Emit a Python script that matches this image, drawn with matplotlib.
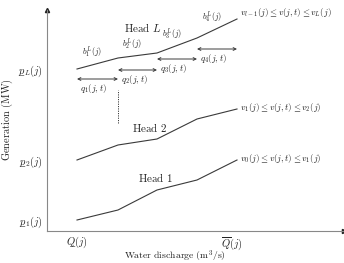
import matplotlib
matplotlib.use("Agg")
import matplotlib.pyplot as plt

plt.rcParams["mathtext.fontset"] = "cm"
plt.rcParams["font.family"] = "serif"
plt.rcParams["font.serif"] = ["cmr10", "DejaVu Serif"]
plt.rcParams["axes.unicode_minus"] = False
plt.rcParams["axes.formatter.use_mathtext"] = True

# ----------------------------
# data (schematic units)
# ----------------------------
discharge = [30, 71, 110, 150, 190]
head_1 = [11, 21, 41, 51, 71]
head_2 = [71, 86, 92, 112, 122]
head_L = [162, 173, 178, 193, 212]

q_levels = [152, 161, 172, 182]          # heights of the q_k(j,t) arrows
x_ticks = [30, 185]
y_ticks = [head_1[0], head_2[0], head_L[0]]

UL = "\u0332"   # combining low line -> underlined symbol
x_labels = ["$Q" + UL + "(j)$", r"$\overline{Q}(j)$"]
y_labels = ["$p" + UL + "_1(j)$", "$p" + UL + "_2(j)$", "$p" + UL + "_L(j)$"]
b_labels = [r"$b_%d^L(j)$" % k for k in range(1, 5)]
q_labels = [r"$q_%d(j,t)$" % k for k in range(1, 5)]
range_labels = [r"$v_0(j) \leq v(j,t) \leq v_1(j)$",
                r"$v_1(j) \leq v(j,t) \leq v_2(j)$",
                r"$v_{l-1}(j) \leq v(j,t) \leq v_L(j)$"]

line_col = "#3a3a3a"
txt_col = "#222222"

fig = plt.figure(figsize=(3.44, 2.63), dpi=100)
ax = fig.add_axes([47 / 344, 32 / 263, 297 / 344, 221 / 263])
ax.set_xlim(0, 297)
ax.set_ylim(0, 221)

for s in ["top", "right"]:
    ax.spines[s].set_visible(False)
for s in ["left", "bottom"]:
    ax.spines[s].set_color("#888888")
    ax.spines[s].set_linewidth(0.8)
ax.plot(1, 0, ">", color="#222222", ms=3, transform=ax.get_yaxis_transform(), clip_on=False)
ax.plot(0, 1, "^", color="#222222", ms=3, transform=ax.get_xaxis_transform(), clip_on=False)

# ----------------------------
# head curves
# ----------------------------
for ys in [head_1, head_2, head_L]:
    ax.plot(discharge, ys, color=line_col, lw=0.8)

ax.text(108, 53, r"$\mathrm{Head\ 1}$", fontsize=8, ha="center", va="center", color=txt_col)
ax.text(103, 104, r"$\mathrm{Head\ 2}$", fontsize=8, ha="center", va="center", color=txt_col)
ax.text(96, 204, r"$\mathrm{Head}\ L$", fontsize=8, ha="center", va="center", color=txt_col)

# range labels at the end of each curve
for ys, lab, dy in zip([head_1, head_2, head_L], range_labels, [1, 1, 5]):
    ax.annotate(lab, (discharge[-1], ys[-1]), xytext=(2.5, dy), textcoords="offset points",
                fontsize=6.5, ha="left", va="center", color=txt_col, annotation_clip=False)

# slope labels on head L
for k in range(4):
    mx = (discharge[k] + discharge[k + 1]) / 2
    my = (head_L[k] + head_L[k + 1]) / 2
    ax.annotate(b_labels[k], (mx, my), xytext=(-3.6, 7.8), textcoords="offset points",
                fontsize=6, ha="center", va="center", color=txt_col)

# q arrows
for k in range(4):
    ax.annotate("", xy=(discharge[k + 1], q_levels[k]), xytext=(discharge[k], q_levels[k]),
                arrowprops=dict(arrowstyle="<->", color=line_col, lw=0.7,
                                mutation_scale=5, shrinkA=0, shrinkB=0))
    ax.annotate(q_labels[k], (discharge[k], q_levels[k]), xytext=(2.5, -7),
                textcoords="offset points", fontsize=6.5, ha="left", va="center", color=txt_col)

ax.plot([discharge[1], discharge[1]], [108, 141], color=line_col, lw=0.7, ls=(0, (1.2, 1.2)))

# ----------------------------
# ticks and labels
# ----------------------------
ax.set_xticks(x_ticks)
ax.set_xticklabels(x_labels, fontsize=7.5, color=txt_col)
ax.set_yticks(y_ticks)
ax.set_yticklabels(y_labels, fontsize=7.5, color=txt_col)
ax.tick_params(length=0, pad=3)

ax.set_xlabel(r"$\mathrm{Water\ discharge\ (m^3/s)}$", fontsize=7, color=txt_col)
ax.set_ylabel(r"$\mathrm{Generation\ (MW)}$", fontsize=7.5, color=txt_col)
ax.xaxis.label.set_va("center")
ax.yaxis.label.set_va("center")
ax.xaxis.set_label_coords((175 - 47) / 297, -25 / 221)
ax.yaxis.set_label_coords(-40 / 297, (231 - 120) / 221)

fig.savefig("out.png", dpi=100)
